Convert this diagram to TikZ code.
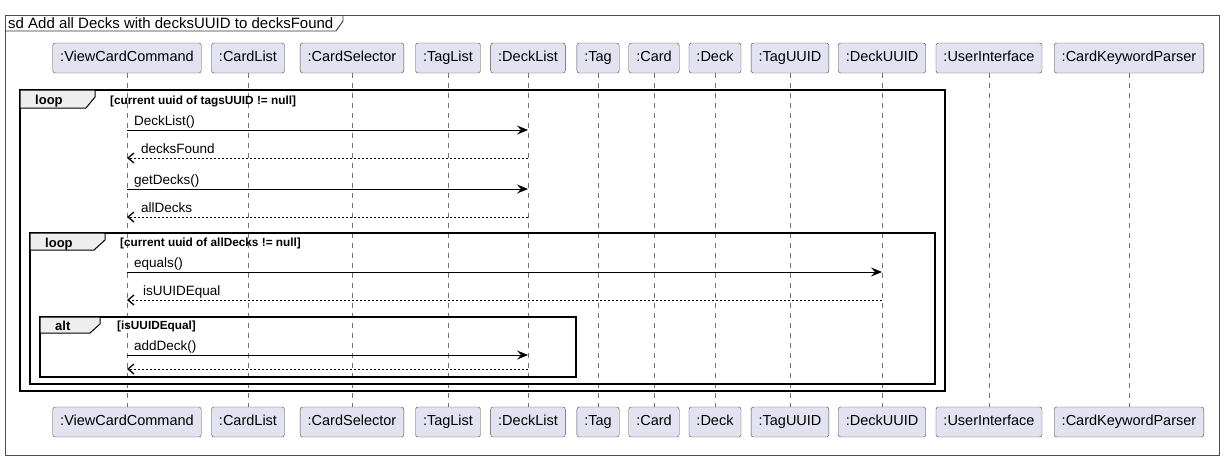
\documentclass[tikz,border=0pt]{standalone}
\usepackage{fontspec}
\setmainfont{Liberation Sans}
\usetikzlibrary{arrows.meta,positioning}
\definecolor{partfill}{HTML}{E2E2F0}
\definecolor{tabfill}{HTML}{EEEEEE}
\tikzset{
        part/.style={draw=black!70, fill=partfill, rounded corners=2.5pt, minimum height=30pt, text height=10.5pt, text depth=3pt, inner xsep=7.5pt, font=\fontsize{14.5}{16}\selectfont}, % participant boxes
        life/.style={draw=black!55, line width=0.7pt, dash pattern=on 5pt off 5pt}, % lifelines
        msg/.style={line width=0.9pt, -{Stealth[length=11pt,width=9pt,inset=4pt]}}, % call
        ret/.style={line width=0.8pt, dash pattern=on 2pt off 2pt, -{Straight Barb[length=6pt,width=10pt,line width=1.3pt]}}, % reply
        lbl/.style={font=\fontsize{13.5}{15}\selectfont, anchor=base west, inner sep=0pt},
        frag/.style={draw=black, line width=1.6pt},
        tab/.style={draw=black, line width=1pt, fill=tabfill},
        tabtext/.style={font=\bfseries\fontsize{13}{15}\selectfont, anchor=base west, inner sep=0pt},
        guard/.style={font=\bfseries\fontsize{11.8}{13}\selectfont, anchor=base west, inner sep=0pt},
    }
\begin{document}
\begin{tikzpicture}[x=1pt, y=-1pt]
    \useasboundingbox[fill=white] (0,0) rectangle (1227,459);
    % frame and title
    \draw[black!70, line width=1pt] (5,15) rectangle (1219,455);
    \draw[black!80, line width=0.9pt] (343,15) -- (343,21) -- (336,31) -- (5,31);
    \node[lbl, font=\fontsize{15}{17}\selectfont] (title) at (8,28) {sd Add all Decks with decksUUID to decksFound};

    % participants (top)
    \node[part] (vcc)   at (127,58)  {:ViewCardCommand};
    \node[part] (clist) at (248,58)  {:CardList};
    \node[part] (csel)  at (352,58)  {:CardSelector};
    \node[part] (tlist) at (448,58)  {:TagList};
    \node[part] (dlist) at (528,58)  {:DeckList};
    \node[part] (tag)   at (598,58)  {:Tag};
    \node[part] (card)  at (654,58)  {:Card};
    \node[part] (deck)  at (715,58)  {:Deck};
    \node[part] (tuuid) at (790,58)  {:TagUUID};
    \node[part] (duuid) at (882,58)  {:DeckUUID};
    \node[part] (ui)    at (989,58)  {:UserInterface};
    \node[part] (ckp)   at (1129,58) {:CardKeywordParser};

    % participants (bottom)
    \node[part] (vccB)   at (127,422)  {:ViewCardCommand};
    \node[part] (clistB) at (248,422)  {:CardList};
    \node[part] (cselB)  at (352,422)  {:CardSelector};
    \node[part] (tlistB) at (448,422)  {:TagList};
    \node[part] (dlistB) at (528,422)  {:DeckList};
    \node[part] (tagB)   at (598,422)  {:Tag};
    \node[part] (cardB)  at (654,422)  {:Card};
    \node[part] (deckB)  at (715,422)  {:Deck};
    \node[part] (tuuidB) at (790,422)  {:TagUUID};
    \node[part] (duuidB) at (882,422)  {:DeckUUID};
    \node[part] (uiB)    at (989,422)  {:UserInterface};
    \node[part] (ckpB)   at (1129,422) {:CardKeywordParser};

    % lifelines
    \foreach \p in {vcc,clist,csel,tlist,dlist,tag,card,deck,tuuid,duuid,ui,ckp}
        \draw[life] (\p.south) -- (\p B.north);

    % outer loop
    \draw[frag] (20,90) rectangle (945,391);
    \draw[tab] (20,90) -- (95,90) -- (95,97) -- (86,108) -- (20,108) -- cycle;
    \node[tabtext] (loopA) at (35,104) {loop};
    \node[guard] (guardA) at (110,104) {[current uuid of tagsUUID != null]};

    \draw[msg] (vcc |- 0,130) -- (dlist |- 0,130);
    \node[lbl] (mDeckList) at ([xshift=7pt]vcc |- 0,125) {DeckList()};
    \draw[ret] (dlist |- 0,158) -- (vcc |- 0,158);
    \node[lbl] (mDecksFound) at ([xshift=14pt]vcc |- 0,153) {decksFound};
    \draw[msg] (vcc |- 0,189) -- (dlist |- 0,189);
    \node[lbl] (mGetDecks) at ([xshift=7pt]vcc |- 0,184) {getDecks()};
    \draw[ret] (dlist |- 0,217) -- (vcc |- 0,217);
    \node[lbl] (mAllDecks) at ([xshift=14pt]vcc |- 0,212) {allDecks};

    % inner loop
    \draw[frag] (30,233) rectangle (935,384);
    \draw[tab] (30,233) -- (105,233) -- (105,240) -- (94,250) -- (30,250) -- cycle;
    \node[tabtext] (loopB) at (45,247) {loop};
    \node[guard] (guardB) at (120,246) {[current uuid of allDecks != null]};

    \draw[msg] (vcc |- 0,272) -- (duuid |- 0,272);
    \node[lbl] (mEquals) at ([xshift=7pt]vcc |- 0,267) {equals()};
    \draw[ret] (duuid |- 0,300) -- (vcc |- 0,300);
    \node[lbl] (mIsEqual) at ([xshift=16pt]vcc |- 0,295) {isUUIDEqual};

    % alt
    \draw[frag] (40,317) rectangle (576,377);
    \draw[tab] (40,317) -- (100,317) -- (100,324) -- (90,333) -- (40,333) -- cycle;
    \node[tabtext] (altC) at (55,330) {alt};
    \node[guard] (guardC) at (117,329) {[isUUIDEqual]};

    \draw[msg] (vcc |- 0,355) -- (dlist |- 0,355);
    \node[lbl] (mAddDeck) at ([xshift=7pt]vcc |- 0,350) {addDeck()};
    \draw[ret] (dlist |- 0,369) -- (vcc |- 0,369);
\end{tikzpicture}
\end{document}
